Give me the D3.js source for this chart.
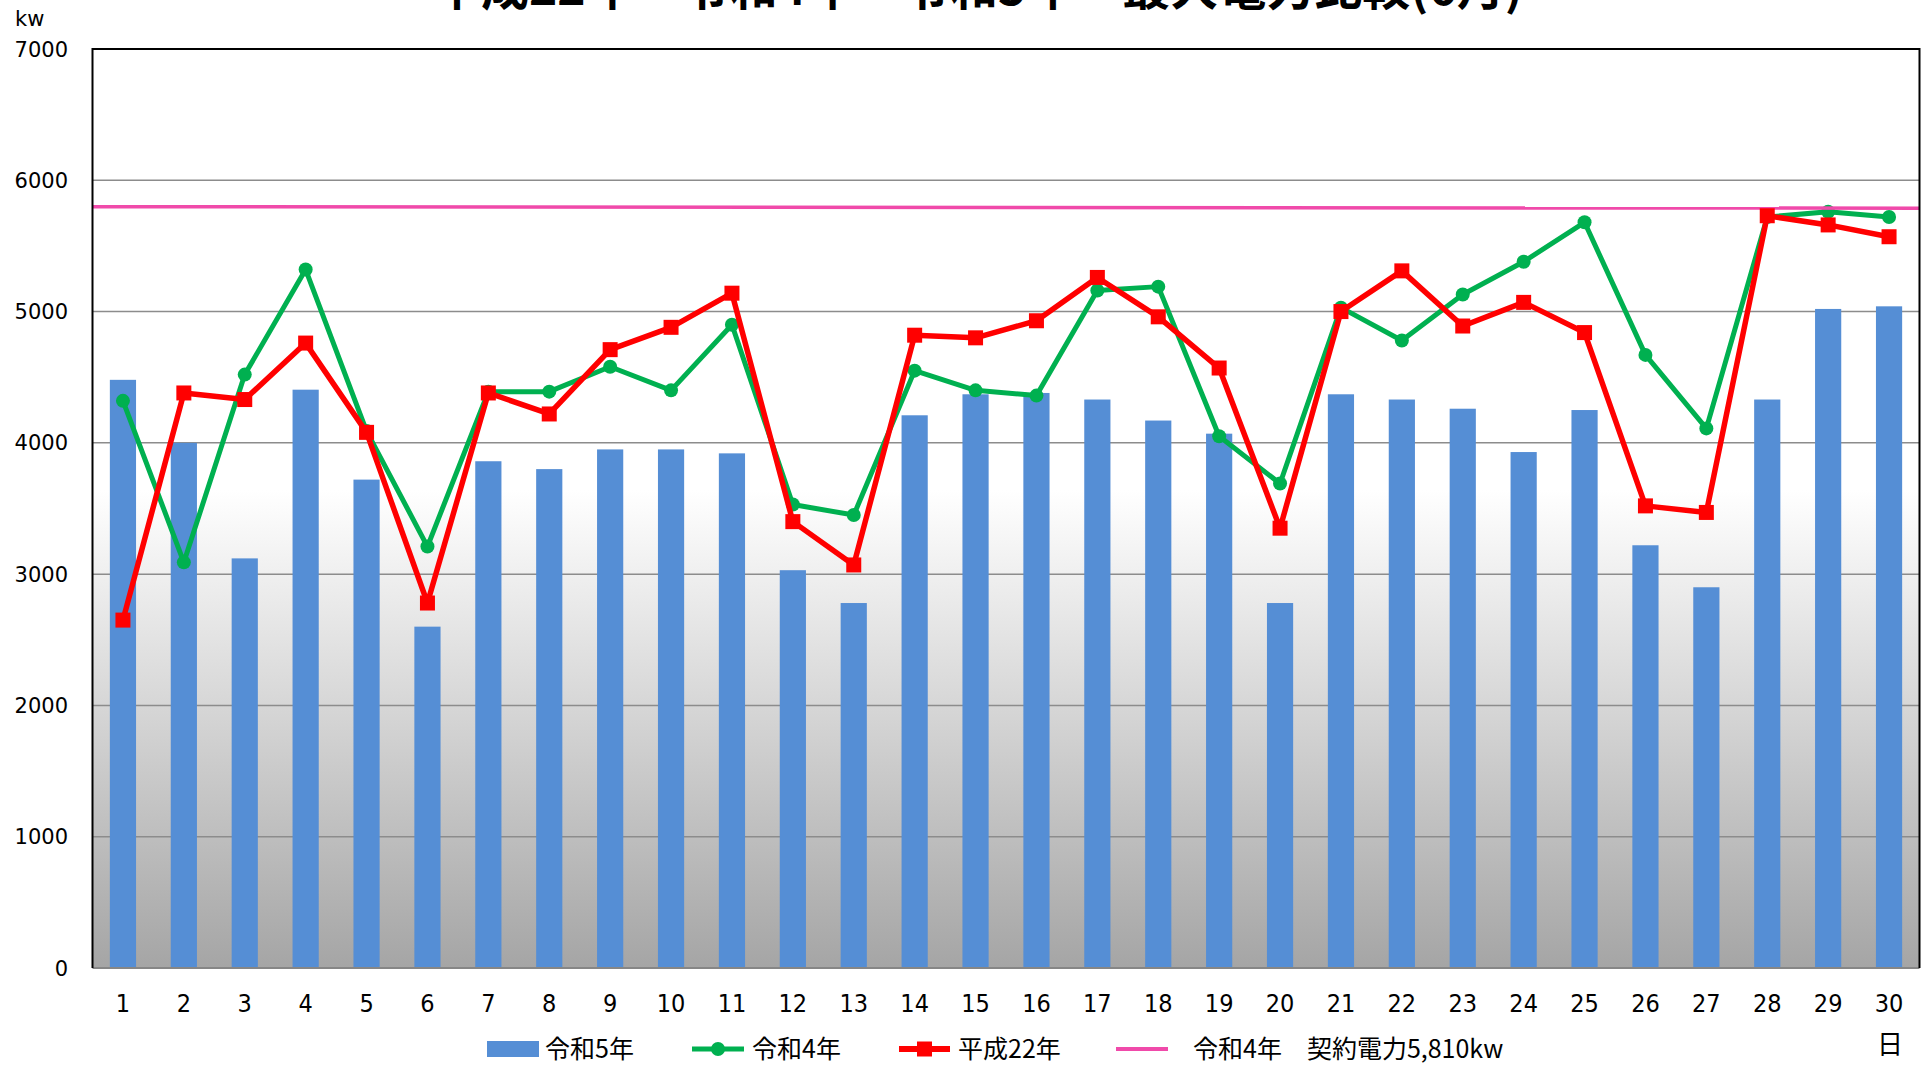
<!DOCTYPE html>
<html lang="ja">
  <head>
    <meta charset="UTF-8" />
    <title>最大電力比較(6月)</title>
    <script src="https://cdnjs.cloudflare.com/ajax/libs/d3/7.8.5/d3.min.js"></script>
    <style>
      body,
      html {
        margin: 0;
        padding: 0;
        background: #fff;
        overflow: hidden;
      }
      svg {
        display: block;
      }
      .ytick {
        font-family: "DejaVu Sans", sans-serif;
        font-size: 21px;
      }
      .xtick {
        font-family: "Liberation Sans Narrow", "DejaVu Sans Condensed", sans-serif;
        font-size: 25px;
      }
      .jp {
        font-family: "Noto Sans CJK JP", sans-serif;
      }
    </style>
  </head>
  <body>
    <svg id="chart" width="1928" height="1065"></svg>
    <script>
      // 日付 (6月)
      const days = d3.range(1, 31);
      // 令和5年 (棒)
      const r5 = [4480, 4000, 3120, 4405, 3720, 2600, 3860, 3800, 3950, 3950,
                  3920, 3030, 2780, 4210, 4370, 4380, 4330, 4170, 4070, 2780,
                  4370, 4330, 4260, 3930, 4250, 3220, 2900, 4330, 5020, 5040];
      // 令和4年 (緑線)
      const r4 = [4320, 3090, 4520, 5320, 4090, 3210, 4390, 4390, 4580, 4400,
                  4900, 3530, 3450, 4550, 4400, 4360, 5160, 5190, 4050, 3690,
                  5030, 4780, 5130, 5380, 5680, 4670, 4110, 5720, 5760, 5720];
      // 平成22年 (赤線)
      const h22 = [2650, 4380, 4330, 4760, 4080, 2780, 4380, 4220, 4710, 4880,
                   5140, 3400, 3070, 4820, 4800, 4930, 5260, 4960, 4570, 3350,
                   5000, 5310, 4890, 5070, 4840, 3520, 3470, 5730, 5660, 5570];
      const contract = 5810;
      const yTicks = [0, 1000, 2000, 3000, 4000, 5000, 6000, 7000];
      const legendLabels = ["令和5年", "令和4年", "平成22年", "令和4年　契約電力5,810kw"];

      const colors = { r5: "#558ed5", r4: "#00b050", h22: "#ff0000", contract: "#f04aaa" };

      const svg = d3.select("#chart");
      const plot = { left: 92.5, right: 1919.5, top: 49, bottom: 968 };

      const x = d3.scaleBand().domain(days).range([plot.left, plot.right]).padding(0);
      const y = d3.scaleLinear().domain([0, 7000]).range([plot.bottom, plot.top]);

      // background gradient
      const defs = svg.append("defs");
      const grad = defs.append("linearGradient")
        .attr("id", "bg").attr("x1", 0).attr("x2", 0).attr("y1", 0).attr("y2", 1);
      grad.append("stop").attr("offset", "0%").attr("stop-color", "#ffffff");
      grad.append("stop").attr("offset", "48%").attr("stop-color", "#ffffff");
      grad.append("stop").attr("offset", "100%").attr("stop-color", "#a5a5a5");

      svg.append("rect")
        .attr("x", plot.left).attr("y", plot.top)
        .attr("width", plot.right - plot.left).attr("height", plot.bottom - plot.top)
        .attr("fill", "url(#bg)");

      // gridlines
      svg.append("g")
        .selectAll("line")
        .data(yTicks.filter((d) => d > 0 && d < 7000))
        .join("line")
        .attr("x1", plot.left).attr("x2", plot.right)
        .attr("y1", (d) => y(d)).attr("y2", (d) => y(d))
        .attr("stroke", "#8c8c8c").attr("stroke-width", 1.5);

      // bars
      const bw = x.bandwidth() * 0.43;
      svg.append("g")
        .selectAll("rect")
        .data(r5)
        .join("rect")
        .attr("x", (d, i) => x(days[i]) + (x.bandwidth() - bw) / 2)
        .attr("y", (d) => y(d))
        .attr("width", bw)
        .attr("height", (d) => y(0) - y(d))
        .attr("fill", colors.r5);

      const line = d3.line()
        .x((d, i) => x(days[i]) + x.bandwidth() / 2)
        .y((d) => y(d));

      // 令和4年
      const gR4 = svg.append("g");
      gR4.append("path").datum(r4).attr("d", line)
        .attr("fill", "none").attr("stroke", colors.r4)
        .attr("stroke-width", 5).attr("stroke-linejoin", "round");
      gR4.selectAll("circle").data(r4).join("circle")
        .attr("cx", (d, i) => x(days[i]) + x.bandwidth() / 2)
        .attr("cy", (d) => y(d))
        .attr("r", 7).attr("fill", colors.r4);

      // contract line
      svg.append("line")
        .attr("x1", plot.left).attr("x2", plot.right)
        .attr("y1", y(contract) + 1.5).attr("y2", y(contract) + 3)
        .attr("stroke", colors.contract).attr("stroke-width", 3.5);

      // 平成22年
      const gH = svg.append("g");
      gH.append("path").datum(h22).attr("d", line)
        .attr("fill", "none").attr("stroke", colors.h22)
        .attr("stroke-width", 5.5).attr("stroke-linejoin", "round");
      const sq = 15;
      gH.selectAll("rect").data(h22).join("rect")
        .attr("x", (d, i) => x(days[i]) + x.bandwidth() / 2 - sq / 2)
        .attr("y", (d) => y(d) - sq / 2)
        .attr("width", sq).attr("height", sq)
        .attr("fill", colors.h22);

      // plot border
      svg.append("line")
        .attr("x1", plot.left).attr("x2", plot.right)
        .attr("y1", plot.bottom).attr("y2", plot.bottom)
        .attr("stroke", "#868686").attr("stroke-width", 2);
      svg.append("path")
        .attr("d", `M${plot.left},${plot.bottom}V${plot.top}H${plot.right}V${plot.bottom}`)
        .attr("fill", "none").attr("stroke", "#000").attr("stroke-width", 2);

      // y tick labels
      svg.append("g")
        .selectAll("text")
        .data(yTicks)
        .join("text")
        .attr("class", "ytick")
        .attr("x", 68)
        .attr("y", (d) => y(d))
        .attr("dy", "0.36em")
        .attr("text-anchor", "end")
        .text((d) => d);

      svg.append("text")
        .attr("class", "ytick")
        .attr("x", 15).attr("y", 26)
        .attr("font-size", 23)
        .text("kw");

      // x tick labels
      svg.append("g")
        .selectAll("text")
        .data(days)
        .join("text")
        .attr("class", "xtick")
        .attr("x", (d) => x(d) + x.bandwidth() / 2)
        .attr("y", 1012)
        .attr("text-anchor", "middle")
        .text((d) => d);

      svg.append("text")
        .attr("class", "jp")
        .attr("x", 1890).attr("y", 1054)
        .attr("text-anchor", "middle")
        .attr("font-size", 26)
        .text("日");

      // title (cut off at top as in the original)
      svg.append("text")
        .attr("class", "jp")
        .attr("x", 978).attr("y", 5)
        .attr("text-anchor", "middle")
        .attr("font-size", 48)
        .attr("font-weight", "bold")
        .text("平成22年　令和4年　令和5年　最大電力比較(6月)");

      // legend
      const legend = svg.append("g").attr("class", "jp").attr("font-size", 25);
      const ly = 1049;
      legend.append("rect").attr("x", 487).attr("y", ly - 8).attr("width", 52).attr("height", 16)
        .attr("fill", colors.r5);
      legend.append("text").attr("x", 545).attr("y", ly + 9).text(legendLabels[0]);

      legend.append("line").attr("x1", 692).attr("x2", 744).attr("y1", ly).attr("y2", ly)
        .attr("stroke", colors.r4).attr("stroke-width", 5);
      legend.append("circle").attr("cx", 718).attr("cy", ly).attr("r", 7).attr("fill", colors.r4);
      legend.append("text").attr("x", 752).attr("y", ly + 9).text(legendLabels[1]);

      legend.append("line").attr("x1", 899).attr("x2", 950).attr("y1", ly).attr("y2", ly)
        .attr("stroke", colors.h22).attr("stroke-width", 6);
      legend.append("rect").attr("x", 917).attr("y", ly - 7.5).attr("width", 15).attr("height", 15)
        .attr("fill", colors.h22);
      legend.append("text").attr("x", 958).attr("y", ly + 9).text(legendLabels[2]);

      legend.append("line").attr("x1", 1116).attr("x2", 1168).attr("y1", ly).attr("y2", ly)
        .attr("stroke", colors.contract).attr("stroke-width", 4);
      legend.append("text").attr("x", 1193).attr("y", ly + 9).text(legendLabels[3]);
    </script>
  </body>
</html>
